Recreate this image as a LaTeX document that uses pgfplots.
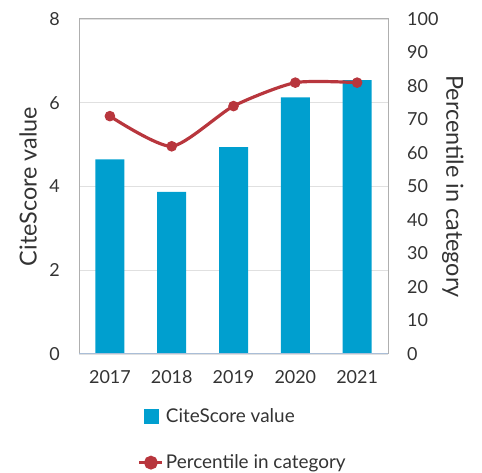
\documentclass[border=0pt]{standalone}
\usepackage{fontspec}
\setmainfont{Lato}
\usepackage{pgfplots}
\pgfplotsset{compat=1.18}

\definecolor{barblue}{RGB}{0,159,207}
\definecolor{linered}{RGB}{184,54,61}
\definecolor{txt}{RGB}{51,51,51}
\definecolor{framegray}{RGB}{175,175,175}
\definecolor{gridgray}{RGB}{224,224,224}
\definecolor{basecol}{RGB}{170,190,215}

\pgfplotsset{
  base/.style={
    scale only axis,
    width=309bp, height=335bp,
    at={(79bp,119bp)}, anchor=south west,
    xmin=-0.5, xmax=4.5,
    tick style={draw=none},
    /pgf/number format/assume math mode=true,
    every tick label/.append style={font=\fontsize{18}{21}\selectfont, text=txt, inner sep=0pt},
    label style={font=\fontsize{23.5}{27}\selectfont, text=txt},
  }
}

\begin{document}
\begin{tikzpicture}[x=1bp,y=1bp]
\useasboundingbox (0,0) rectangle (482,473);

% left axis: CiteScore bars
\begin{axis}[base,
  ymin=0, ymax=8, ytick={0,2,4,6,8},
  xtick={0,1,2,3,4},
  xticklabels={2017,2018,2019,2020,2021},
  xticklabel style={anchor=north, yshift=-16bp},
  yticklabel style={anchor=east, xshift=-19bp},
  ymajorgrids, grid style={gridgray, line width=1.2bp},
  axis line style={framegray, line width=1bp},
  ylabel={CiteScore value},
  ylabel style={at={(axis description cs:-0.165,0.5)}, anchor=center},
]
\addplot[ybar, bar width=29bp, fill=barblue, draw=none]
  coordinates {(0,4.65) (1,3.87) (2,4.94) (3,6.13) (4,6.54)};
\draw[basecol, line width=1.2bp] (rel axis cs:0,0) -- (rel axis cs:1,0);
\end{axis}

% right axis: percentile line
\begin{axis}[base,
  ymin=0, ymax=100, ytick={0,10,...,100},
  axis y line*=right, axis x line=none,
  axis line style={draw=none},
  yticklabel style={anchor=west, xshift=19bp},
  ylabel={Percentile in category},
  ylabel style={at={(axis description cs:1.21,0.5)}, anchor=center, rotate=180},
  legend style={
    at={(axis description cs:0.530,-0.255)}, anchor=center,
    draw=none, fill=none,
    font=\fontsize{19}{22}\selectfont, text=txt,
    row sep=27bp,
  },
  legend cell align=left,
]
\addlegendimage{
  legend image code/.code={\fill[barblue] (-7bp,-7bp) rectangle (7bp,7bp);}}
\addlegendentry{CiteScore value}
\addplot[linered, line width=3.2bp, smooth, tension=0.4, mark=*, mark size=4.8bp,
  mark options={solid, fill=linered, draw=linered, line width=1bp},
  legend image code/.code={
    \draw[linered, line width=3bp] (-11.5bp,0bp) -- (11.5bp,0bp);
    \fill[linered] (0bp,0bp) circle (5.3bp);}]
  coordinates {(0,71) (1,62) (2,74) (3,81) (4,81)};
\addlegendentry{Percentile in category}
\end{axis}
\end{tikzpicture}
\end{document}
